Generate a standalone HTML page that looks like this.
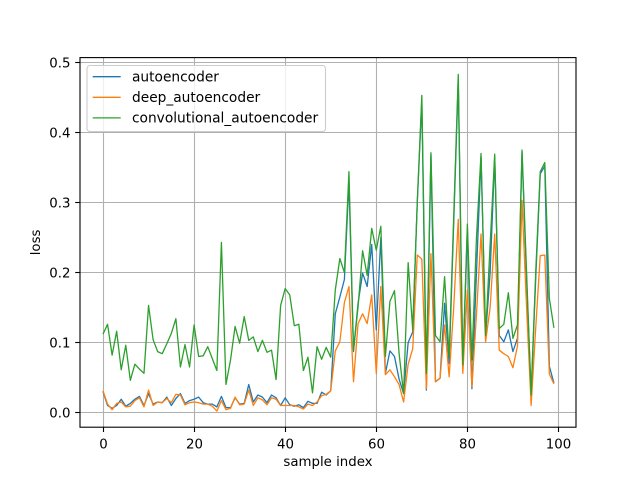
<!DOCTYPE html>
<html>
<head>
<meta charset="utf-8">
<style>
  html,body{margin:0;padding:0;background:#fff;}
  svg{display:block;}
  text{font-family:"DejaVu Sans","Liberation Sans",sans-serif;fill:#000;}
</style>
</head>
<body>
<svg width="640" height="480" viewBox="0 0 640 480" xmlns="http://www.w3.org/2000/svg">
  <rect x="0" y="0" width="640" height="480" fill="#fff"/>
  <!-- grid -->
  <g stroke="#b0b0b0" stroke-width="1.1" fill="none">
    <line x1="103.5" y1="57.6" x2="103.5" y2="427.2"/>
    <line x1="194.5" y1="57.6" x2="194.5" y2="427.2"/>
    <line x1="285.5" y1="57.6" x2="285.5" y2="427.2"/>
    <line x1="376.5" y1="57.6" x2="376.5" y2="427.2"/>
    <line x1="467.5" y1="57.6" x2="467.5" y2="427.2"/>
    <line x1="558.5" y1="57.6" x2="558.5" y2="427.2"/>
    <line x1="80" y1="412.5" x2="576" y2="412.5"/>
    <line x1="80" y1="342.5" x2="576" y2="342.5"/>
    <line x1="80" y1="272.5" x2="576" y2="272.5"/>
    <line x1="80" y1="202.5" x2="576" y2="202.5"/>
    <line x1="80" y1="132.5" x2="576" y2="132.5"/>
    <line x1="80" y1="62.5" x2="576" y2="62.5"/>
  </g>
  <!-- data -->
  <g transform="translate(103,412.5) scale(4.5546,-700)" fill="none" stroke-linejoin="round" stroke-linecap="butt">
    <polyline vector-effect="non-scaling-stroke" stroke="#1f77b4" stroke-width="1.3" points="0,.030 1,.010 2,.006 3,.010 4,.019 5,.009 6,.013 7,.019 8,.023 9,.010 10,.027 11,.012 12,.015 13,.014 14,.022 15,.010 16,.020 17,.027 18,.013 19,.017 20,.019 21,.022 22,.014 23,.012 24,.012 25,.008 26,.023 27,.007 28,.007 29,.021 30,.012 31,.013 32,.040 33,.015 34,.025 35,.022 36,.014 37,.025 38,.021 39,.010 40,.021 41,.011 42,.009 43,.011 44,.007 45,.016 46,.013 47,.013 48,.029 49,.025 50,.031 51,.141 52,.165 53,.190 54,.33 55,.087 56,.156 57,.199 58,.180 59,.24 60,.118 61,.25 62,.056 63,.088 64,.080 65,.048 66,.027 67,.100 68,.115 69,.30 70,.445 71,.032 72,.368 73,.044 74,.049 75,.156 76,.070 77,.27 78,.475 79,.062 80,.262 81,.034 82,.2 83,.365 84,.11 85,.2 86,.365 87,.110 88,.101 89,.118 90,.087 91,.106 92,.372 93,.19 94,.027 95,.19 96,.341 97,.352 98,.066 99,.042"/>
    <polyline vector-effect="non-scaling-stroke" stroke="#ff7f0e" stroke-width="1.3" points="0,.031 1,.012 2,.004 3,.013 4,.015 5,.008 6,.009 7,.017 8,.021 9,.008 10,.032 11,.010 12,.015 13,.014 14,.020 15,.014 16,.026 17,.025 18,.011 19,.014 20,.015 21,.014 22,.012 23,.012 24,.009 25,.002 26,.017 27,.004 28,.006 29,.022 30,.011 31,.012 32,.032 33,.010 34,.021 35,.018 36,.011 37,.021 38,.019 39,.010 40,.010 41,.010 42,.010 43,.008 44,.005 45,.012 46,.010 47,.015 48,.024 49,.026 50,.031 51,.088 52,.101 53,.157 54,.180 55,.044 56,.127 57,.141 58,.127 59,.168 60,.056 61,.180 62,.054 63,.061 64,.051 65,.040 66,.015 67,.069 68,.091 69,.225 70,.219 71,.034 72,.227 73,.044 74,.049 75,.125 76,.051 77,.15 78,.276 79,.056 80,.175 81,.037 82,.14 83,.255 84,.101 85,.15 86,.255 87,.089 88,.084 89,.080 90,.064 91,.095 92,.303 93,.15 94,.010 95,.12 96,.224 97,.225 98,.055 99,.041"/>
    <polyline vector-effect="non-scaling-stroke" stroke="#2ca02c" stroke-width="1.3" points="0,.112 1,.126 2,.082 3,.116 4,.061 5,.096 6,.046 7,.069 8,.062 9,.056 10,.153 11,.104 12,.087 13,.084 14,.098 15,.113 16,.134 17,.065 18,.097 19,.065 20,.125 21,.080 22,.081 23,.094 24,.077 25,.060 26,.243 27,.040 28,.075 29,.123 30,.099 31,.137 32,.103 33,.108 34,.087 35,.103 36,.086 37,.089 38,.047 39,.153 40,.177 41,.168 42,.124 43,.126 44,.060 45,.079 46,.028 47,.094 48,.076 49,.093 50,.079 51,.175 52,.220 53,.200 54,.344 55,.089 56,.151 57,.231 58,.196 59,.263 60,.232 61,.266 62,.080 63,.159 64,.174 65,.085 66,.027 67,.214 68,.118 69,.30 70,.453 71,.056 72,.371 73,.110 74,.101 75,.194 76,.080 77,.28 78,.483 79,.068 80,.269 81,.075 82,.25 83,.370 84,.11 85,.24 86,.369 87,.12 88,.126 89,.171 90,.106 91,.125 92,.375 93,.2 94,.025 95,.2 96,.344 97,.357 98,.163 99,.121"/>
  </g>
  <!-- spines -->
  <rect x="80" y="57.6" width="496" height="369.6" fill="none" stroke="#000" stroke-width="1.1"/>
  <!-- ticks -->
  <g stroke="#000" stroke-width="1.1">
    <line x1="103.5" y1="427.2" x2="103.5" y2="432"/>
    <line x1="194.5" y1="427.2" x2="194.5" y2="432"/>
    <line x1="285.5" y1="427.2" x2="285.5" y2="432"/>
    <line x1="376.5" y1="427.2" x2="376.5" y2="432"/>
    <line x1="467.5" y1="427.2" x2="467.5" y2="432"/>
    <line x1="558.5" y1="427.2" x2="558.5" y2="432"/>
    <line x1="75.2" y1="412.5" x2="80" y2="412.5"/>
    <line x1="75.2" y1="342.5" x2="80" y2="342.5"/>
    <line x1="75.2" y1="272.5" x2="80" y2="272.5"/>
    <line x1="75.2" y1="202.5" x2="80" y2="202.5"/>
    <line x1="75.2" y1="132.5" x2="80" y2="132.5"/>
    <line x1="75.2" y1="62.5" x2="80" y2="62.5"/>
  </g>
  <!-- tick labels -->
  <g font-size="13.33" text-anchor="middle">
    <text x="103.5" y="448.5">0</text>
    <text x="194.5" y="448.5">20</text>
    <text x="285.5" y="448.5">40</text>
    <text x="376.5" y="448.5">60</text>
    <text x="467.5" y="448.5">80</text>
    <text x="558.5" y="448.5">100</text>
  </g>
  <g font-size="13.33" text-anchor="end">
    <text x="70.5" y="417.3">0.0</text>
    <text x="70.5" y="347.3">0.1</text>
    <text x="70.5" y="277.3">0.2</text>
    <text x="70.5" y="207.3">0.3</text>
    <text x="70.5" y="137.3">0.4</text>
    <text x="70.5" y="67.3">0.5</text>
  </g>
  <text x="328" y="466" font-size="13.33" text-anchor="middle">sample index</text>
  <text transform="translate(40,242.4) rotate(-90)" font-size="13.33" text-anchor="middle">loss</text>
  <!-- legend -->
  <rect x="87" y="65.5" width="238.5" height="66" rx="3" ry="3" fill="#fff" fill-opacity="0.8" stroke="#cccccc" stroke-width="1.1"/>
  <line x1="92.7" y1="76.7" x2="120.7" y2="76.7" stroke="#1f77b4" stroke-width="1.3"/>
  <line x1="92.7" y1="97.3" x2="120.7" y2="97.3" stroke="#ff7f0e" stroke-width="1.3"/>
  <line x1="92.7" y1="117.9" x2="120.7" y2="117.9" stroke="#2ca02c" stroke-width="1.3"/>
  <g font-size="13.75">
    <text x="132" y="81.5">autoencoder</text>
    <text x="132" y="102.1">deep_autoencoder</text>
    <text x="132" y="122.7">convolutional_autoencoder</text>
  </g>
</svg>
</body>
</html>
